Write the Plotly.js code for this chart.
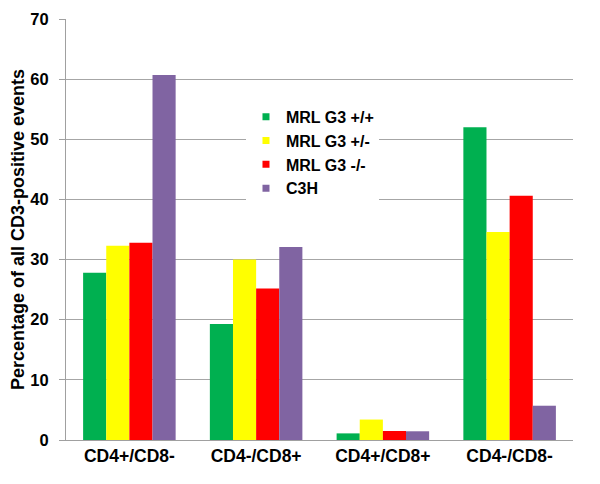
<!DOCTYPE html>
<html>
<head>
<meta charset="utf-8">
<script src="https://cdn.plot.ly/plotly-3.0.1.min.js"></script>
<style>body{margin:0;padding:0;background:#fff;}#chart{width:600px;height:484px;}</style>
</head>
<body>
<div id="chart"></div>
<script>
var categories = ["CD4+/CD8-", "CD4-/CD8+", "CD4+/CD8+", "CD4-/CD8-"];
var seriesNames = ["MRL G3 +/+", "MRL G3 +/-", "MRL G3 -/-", "C3H"];
var mrlPP = [27.8, 19.3, 1.1, 52.0];
var mrlPM = [32.3, 30.0, 3.4, 34.6];
var mrlMM = [32.8, 25.2, 1.5, 40.6];
var c3h = [60.7, 32.1, 1.45, 5.7];
var colors = ["#00b050", "#ffff00", "#ff0000", "#8064a2"];
var yTicks = [0, 10, 20, 30, 40, 50, 60, 70];

var allSeries = [mrlPP, mrlPM, mrlMM, c3h];
var traces = allSeries.map(function (vals, i) {
  return {
    type: "bar",
    name: seriesNames[i],
    x: categories,
    y: vals,
    marker: {color: colors[i], line: {width: 0}},
    showlegend: false,
    hoverinfo: "none"
  };
});
// legend entries with small square keys, as in the reference
seriesNames.forEach(function (nm, i) {
  traces.push({
    type: "scatter",
    mode: "markers",
    name: nm,
    x: [null],
    y: [null],
    marker: {symbol: "square", size: 7, color: colors[i]},
    showlegend: true,
    hoverinfo: "none"
  });
});

var fam = "Liberation Sans, Arial, sans-serif";

var layout = {
  width: 600,
  height: 484,
  margin: {l: 66, r: 27, t: 19, b: 44},
  paper_bgcolor: "#fff",
  plot_bgcolor: "#fff",
  barmode: "group",
  bargap: 0.27,
  bargroupgap: 0,
  showlegend: true,
  legend: {
    x: 0.355, y: 0.808, xanchor: "left", yanchor: "top",
    bgcolor: "#fff",
    font: {family: fam, size: 16, color: "#000", weight: "bold"},
    itemwidth: 30,
    tracegroupgap: 0
  },
  xaxis: {
    type: "category",
    showgrid: false,
    showline: true,
    linecolor: "#a0a0a0",
    linewidth: 1,
    ticks: "",
    tickfont: {family: fam, size: 17.5, color: "#000", weight: "bold"},
    fixedrange: true
  },
  yaxis: {
    range: [0, 70],
    tickvals: yTicks,
    ticktext: yTicks.map(String),
    showgrid: true,
    gridcolor: "#a6a6a6",
    gridwidth: 1,
    showline: true,
    linecolor: "#a0a0a0",
    linewidth: 1,
    ticks: "outside",
    ticklen: 6,
    tickcolor: "#a0a0a0",
    ticklabelstandoff: 7,
    zeroline: false,
    tickfont: {family: fam, size: 16.5, color: "#000", weight: "bold"},
    title: {
      text: "Percentage of all CD3-positive events",
      font: {family: fam, size: 18, color: "#000", weight: "bold"},
      standoff: 1
    },
    fixedrange: true
  }
};

Plotly.newPlot("chart", traces, layout, {displayModeBar: false, staticPlot: true});
</script>
</body>
</html>
